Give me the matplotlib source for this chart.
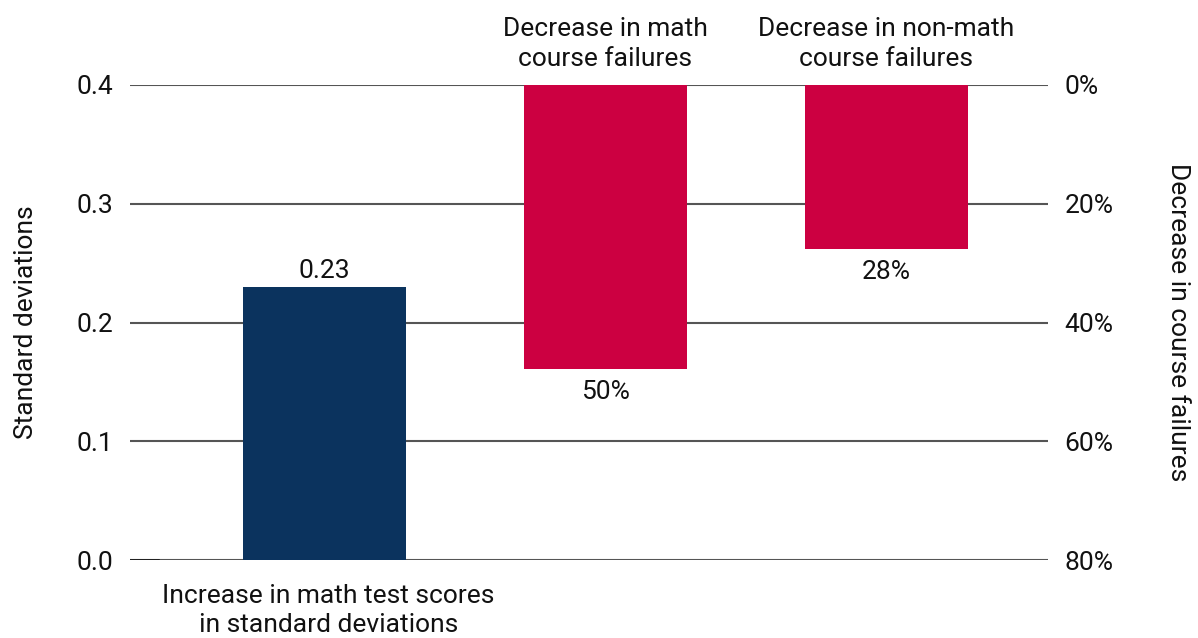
import matplotlib

matplotlib.use("Agg")

import matplotlib.pyplot as plt

plt.rcParams["font.family"] = ["Roboto", "DejaVu Sans"]

# data
categories = [
    "Increase in math test scores\nin standard deviations",
    "Decrease in math\ncourse failures",
    "Decrease in non-math\ncourse failures",
]
sd_values = [0.23]
sd_labels = ["0.23"]
failure_values = [47.8, 27.6]
failure_labels = ["50%", "28%"]

left_ticks = [0.0, 0.1, 0.2, 0.3, 0.4]
left_tick_labels = ["0.0", "0.1", "0.2", "0.3", "0.4"]
right_ticks = [0, 20, 40, 60, 80]
right_tick_labels = ["0%", "20%", "40%", "60%", "80%"]

NAVY = "#0b335e"
RED = "#cc0041"
GRID = "#555555"
FS = 19

fig = plt.figure(figsize=(11.98, 6.38), dpi=100)
ax = fig.add_axes([130 / 1198, 1 - 560 / 638, (1048 - 130) / 1198, (560 - 85) / 638])
ax_r = ax.twinx()

xlim = (-0.692, 2.575)
bar_w = 0.58

# gridlines shared by both axes
for t in left_ticks:
    ax.axhline(t, color=GRID, linewidth=1.5, zorder=0)
ax.plot([xlim[0], xlim[0] + 0.1], [0, 0], color="#111111", linewidth=1.8, zorder=1)

sd_x = [0]
ax.bar(sd_x, sd_values, width=bar_w, color=NAVY, zorder=2)
for x, v, lab in zip(sd_x, sd_values, sd_labels):
    ax.annotate(lab, (x, v), xytext=(0, 3), textcoords="offset points",
                ha="center", va="bottom", fontsize=FS, color="#111111")

fail_x = [1, 2]
ax_r.bar(fail_x, failure_values, width=bar_w, color=RED, zorder=2)
for x, v, lab in zip(fail_x, failure_values, failure_labels):
    ax_r.annotate(lab, (x, v), xytext=(0, -8), textcoords="offset points",
                  ha="center", va="top", fontsize=FS, color="#111111")

ax.set_xlim(*xlim)
ax.set_ylim(0, 0.4)
ax_r.set_ylim(80, 0)

ax.set_yticks(left_ticks)
ax.set_yticklabels(left_tick_labels)
ax_r.set_yticks(right_ticks)
ax_r.set_yticklabels(right_tick_labels)
ax.set_xticks([])
for a in (ax, ax_r):
    a.tick_params(axis="y", length=0, pad=12, labelsize=FS, labelcolor="#111111")
    for s in a.spines.values():
        s.set_visible(False)

ax.set_ylabel("Standard deviations", fontsize=FS, color="#111111", labelpad=28)
ax_r.set_ylabel("Decrease in course failures", fontsize=FS, color="#111111",
                rotation=270, labelpad=38, va="bottom")

# category labels
ax.annotate(categories[0], (0.015, 0), xytext=(0, -17), textcoords="offset points",
            ha="center", va="top", fontsize=FS, color="#111111", linespacing=1.28,
            annotation_clip=False)
for x, cat in zip(fail_x, categories[1:]):
    ax.annotate(cat, (x, 0.4), xytext=(0, 10), textcoords="offset points",
                ha="center", va="bottom", fontsize=FS, color="#111111", linespacing=1.3,
                annotation_clip=False)

fig.savefig("out.png", dpi=100)
